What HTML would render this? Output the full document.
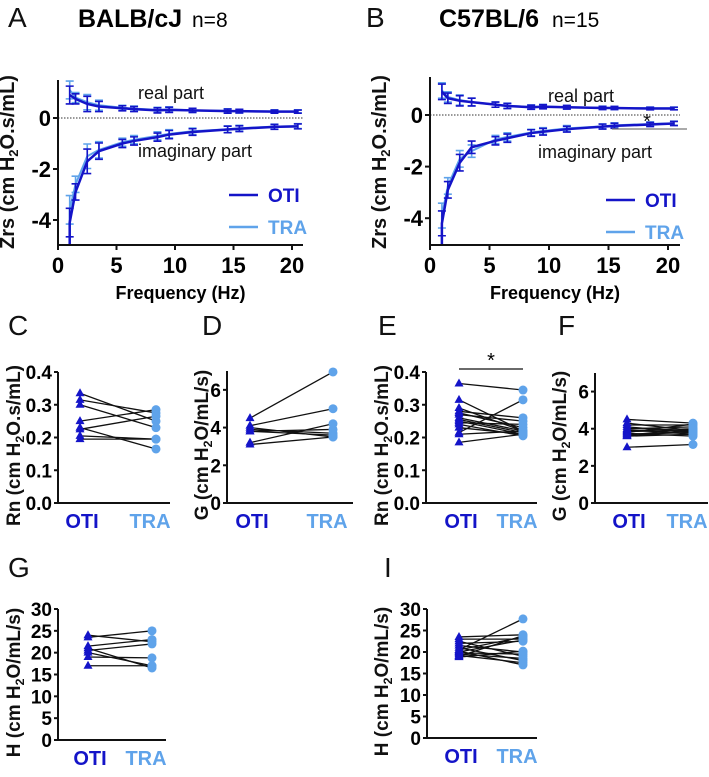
<!DOCTYPE html>
<html><head><meta charset="utf-8"><style>
body{margin:0;background:#fff}
svg{display:block;font-family:"Liberation Sans",sans-serif}
</style></head><body>
<svg id="fig" width="709" height="777" viewBox="0 0 709 777"></svg>
<script>
const OTI='#1414c8', TRA='#5fa3ea';
// ---- Panel A/B data ----
const freqs=[1,1.5,2.5,3.5,5.5,6.5,8.5,9.5,11.5,14.5,15.5,18.5,20.5];
const aRealOTI=[0.9,0.75,0.55,0.45,0.38,0.35,0.3,0.32,0.3,0.27,0.27,0.25,0.25];
const aRealTRA=[1.1,0.8,0.62,0.5,0.4,0.37,0.32,0.34,0.3,0.28,0.27,0.26,0.26];
const aImagOTI=[-4.1,-2.9,-1.7,-1.3,-1.0,-0.9,-0.75,-0.65,-0.55,-0.45,-0.42,-0.35,-0.33];
const aImagTRA=[-3.6,-2.6,-1.5,-1.25,-0.95,-0.85,-0.7,-0.62,-0.52,-0.44,-0.4,-0.34,-0.32];
const aErr=[0.35,0.2,0.3,0.2,0.1,0.1,0.1,0.1,0.08,0.08,0.07,0.06,0.06];
const bRealOTI=[0.9,0.65,0.55,0.5,0.4,0.35,0.3,0.32,0.3,0.27,0.27,0.25,0.25];
const bRealTRA=[0.95,0.7,0.58,0.5,0.4,0.36,0.31,0.33,0.3,0.28,0.27,0.26,0.26];
const bImagOTI=[-4.2,-2.9,-1.85,-1.25,-1.0,-0.9,-0.7,-0.65,-0.55,-0.45,-0.42,-0.37,-0.33];
const bImagTRA=[-3.9,-2.75,-1.7,-1.4,-0.95,-0.85,-0.68,-0.62,-0.52,-0.44,-0.4,-0.35,-0.32];
const bErr=[0.3,0.2,0.2,0.15,0.1,0.1,0.08,0.08,0.07,0.06,0.06,0.05,0.05];
const zTicksY=[0,-2,-4];
const zTicksX=[0,5,10,15,20];
// ---- paired panels ----
const cOTI=[0.335,0.315,0.30,0.25,0.225,0.23,0.205,0.195];
const cTRA=[0.25,0.275,0.23,0.285,0.265,0.165,0.195,0.195];
const dOTI=[4.5,4.1,4.0,3.9,3.8,3.8,3.2,3.1];
const dTRA=[6.95,5.0,3.5,3.7,3.6,3.9,4.2,3.5];
const eOTI=[0.365,0.315,0.29,0.28,0.275,0.27,0.26,0.255,0.25,0.245,0.24,0.23,0.215,0.21,0.185];
const eTRA=[0.345,0.22,0.22,0.26,0.23,0.25,0.22,0.215,0.21,0.24,0.205,0.21,0.315,0.22,0.21];
const fOTI=[4.5,4.3,4.2,4.1,4.0,3.95,3.9,3.85,3.8,3.75,3.7,3.65,3.6,3.6,3.0];
const fTRA=[4.3,3.9,4.2,3.8,4.1,3.7,4.0,3.9,4.25,3.6,3.8,4.0,3.7,3.9,3.15];
const gOTI=[24,23.5,21.5,21,20.5,20,19,17];
const gTRA=[22.5,25,23,16.5,22,17,18.8,17];
const iOTI=[23.5,23,22.5,22,21.5,21,20.5,20.2,20,19.8,19.5,19.2,19,18.8,20.5];
const iTRA=[24,23,19,22.5,20,18,23.5,17,22.8,19.5,18.5,17.5,23.8,20.2,27.7];

const svg=document.getElementById('fig');
const NS='http://www.w3.org/2000/svg';
function el(tag,attrs,parent){const e=document.createElementNS(NS,tag);for(const k in attrs)e.setAttribute(k,attrs[k]);(parent||svg).appendChild(e);return e;}
function txt(s,attrs,parent){const e=el('text',attrs,parent);e.textContent=s;return e;}

function label(x,y,s,size){const t=txt(s,{x:x,y:y,'font-size':size||26,fill:'#111'});

}

function ytitle(cx,cy,main,rest,size){
  const t=el('text',{transform:`translate(${cx},${cy}) rotate(-90)`,'text-anchor':'middle','font-size':size,'font-weight':'bold',fill:'#111'});
  
  
  t.innerHTML=main+'H<tspan font-size="'+(size*0.65)+'" dy="4">2</tspan><tspan dy="-4">'+rest+'</tspan>';
}

function zPanel(o){
  const g=el('g',{});
  
  
  const X=f=>o.x0+f*o.sx, Y=v=>o.y0-v*o.sy;
  el('line',{x1:o.x0,x2:o.xend,y1:Y(0),y2:Y(0),stroke:'#333','stroke-width':1,'stroke-dasharray':'1.5,1.5'},g);
  const series=[[o.rT,TRA],[o.iT,TRA],[o.rO,OTI],[o.iO,OTI]];
  series.forEach(([arr,c],si)=>{
    let d='';arr.forEach((v,i)=>{d+=(i?'L':'M')+X(freqs[i])+','+Y(v)});
    if(si%2==1) d='M'+X(freqs[0])+','+Y(-5)+'L'+d.slice(1);
    const p=el('path',{d:d,fill:'none',stroke:c,'stroke-width':si>1?2.5:2},g);
    
    
    arr.forEach((v,i)=>{const e=o.err[i]*(si%2?1.6:1),x=X(freqs[i]);
      el('path',{d:`M${x},${Y(v+e)}V${Y(v-e)}M${x-4},${Y(v+e)}h8M${x-4},${Y(v-e)}h8`,stroke:c,'stroke-width':1.6,fill:'none'},g);});
  });
  el('line',{x1:o.x0,x2:o.x0,y1:o.ytop,y2:o.ybot,stroke:'#111','stroke-width':2},g);
  el('line',{x1:o.x0,x2:o.xend,y1:o.ybot,y2:o.ybot,stroke:'#111','stroke-width':2},g);
  zTicksY.forEach(v=>{el('line',{x1:o.x0-5,x2:o.x0,y1:Y(v),y2:Y(v),stroke:'#111','stroke-width':2},g);
    txt(String(v),{x:o.x0-7,y:Y(v)+8,'text-anchor':'end','font-size':22,'font-weight':'bold'},g);});
  zTicksX.forEach(v=>{el('line',{x1:X(v),x2:X(v),y1:o.ybot,y2:o.ybot+5,stroke:'#111','stroke-width':2},g);
    txt(v,{x:X(v),y:o.ybot+28,'text-anchor':'middle','font-size':22,'font-weight':'bold'},g);});
  txt('Frequency (Hz)',{x:(o.x0+o.xend)/2,y:o.ybot+54,'text-anchor':'middle','font-size':18,'font-weight':'bold'},g);
  ytitle(o.x0-44,162,'Zrs (cm ','O.s/mL)',20);
  txt('real part',{x:o.realX,y:o.realY,'font-size':18,fill:'#111'},g);
  txt('imaginary part',{x:o.imX,y:o.imY,'font-size':18,fill:'#111'},g);
  el('line',{x1:o.legX,x2:o.legX+29,y1:o.legY,y2:o.legY,stroke:OTI,'stroke-width':2.5},g);
  txt('OTI',{x:o.legX+39,y:o.legY+7,'font-size':19,'font-weight':'bold',fill:OTI},g);
  el('line',{x1:o.legX,x2:o.legX+29,y1:o.legY+32,y2:o.legY+32,stroke:TRA,'stroke-width':2.5},g);
  txt('TRA',{x:o.legX+39,y:o.legY+39,'font-size':19,'font-weight':'bold',fill:TRA},g);
  return {g,X,Y};
}
zPanel({name:'panel-a-impedance',x0:58,xend:303,sx:11.7,y0:118,sy:25.5,ytop:80,ybot:245,rO:aRealOTI,rT:aRealTRA,iO:aImagOTI,iT:aImagTRA,err:aErr,realX:138,realY:99,imX:138,imY:157,legX:229,legY:195});
const pb=zPanel({name:'panel-b-impedance',x0:430,xend:680,sx:11.9,y0:115,sy:25.8,ytop:77,ybot:245,rO:bRealOTI,rT:bRealTRA,iO:bImagOTI,iT:bImagTRA,err:bErr,realX:548,realY:102,imX:538,imY:158,legX:606,legY:200});
txt('*',{x:647,y:128,'text-anchor':'middle','font-size':20,fill:'#111'},pb.g);
el('line',{x1:612,x2:687,y1:129,y2:129,stroke:'#777','stroke-width':1.2},pb.g);

label(8,27,'A',28);
let t=txt('BALB/cJ',{x:78,y:27,'font-size':25,'font-weight':'bold'});
txt('n=8',{x:192,y:27,'font-size':21});
label(366,27,'B',28);
t=txt('C57BL/6',{x:439,y:27,'font-size':25,'font-weight':'bold'});
txt('n=15',{x:552,y:27,'font-size':21});

function pPanel(o){
  const g=el('g',{});
  
  
  const Y=v=>o.y0-(v/o.max)*(o.y0-o.ytop);
  o.oti.forEach((v,i)=>{const l=el('line',{x1:o.xo,y1:Y(v),x2:o.xt,y2:Y(o.tra[i]),stroke:'#111','stroke-width':1.3},g);
    });
  o.oti.forEach(v=>{const p=el('path',{d:`M${o.xo},${Y(v)-5}l4.5,8h-9z`,fill:OTI},g);
    });
  o.tra.forEach(v=>{const c=el('circle',{cx:o.xt,cy:Y(v),r:4.5,fill:TRA},g);
    });
  el('line',{x1:o.x0,x2:o.x0,y1:o.ytop,y2:o.y0,stroke:'#111','stroke-width':2},g);
  el('line',{x1:o.x0,x2:o.xend,y1:o.y0,y2:o.y0,stroke:'#111','stroke-width':2},g);
  o.ticks.forEach((v,i)=>{el('line',{x1:o.x0-4,x2:o.x0,y1:Y(v),y2:Y(v),stroke:'#111','stroke-width':2},g);
    txt(o.tickLabels[i],{x:o.x0-6,y:Y(v)+7,'text-anchor':'end','font-size':19,'font-weight':'bold'},g);});
  txt('OTI',{x:o.xo+2,y:o.y0+25,'text-anchor':'middle','font-size':20,'font-weight':'bold',fill:OTI},g);
  txt('TRA',{x:o.xt-6,y:o.y0+25,'text-anchor':'middle','font-size':20,'font-weight':'bold',fill:TRA},g);
  ytitle(o.tx,(o.ytop+o.y0)/2+8,o.ttl[0],o.ttl[1],19);
  return {g,Y};
}
const rnTicks=[0,0.1,0.2,0.3,0.4], rnLabels=['0.0','0.1','0.2','0.3','0.4'];
const gTicks=[0,2,4,6], gLabels=['0','2','4','6'];
const hTicks=[0,5,10,15,20,25,30], hLabels=['0','5','10','15','20','25','30'];
label(8,335,'C',28); label(202,335,'D',28); label(378,335,'E',28); label(558,335,'F',28);
label(8,577,'G',28); label(384,577,'I',28);
pPanel({name:'panel-c-rn-balbc',x0:58,xend:170,xo:80,xt:156,y0:503,ytop:372,max:0.4,oti:cOTI,tra:cTRA,ticks:rnTicks,tickLabels:rnLabels,tx:20,ttl:['Rn (cm ','O.s/mL)']});
pPanel({name:'panel-d-g-balbc',x0:227,xend:353,xo:250,xt:333,y0:503,ytop:371,max:7,oti:dOTI,tra:dTRA,ticks:gTicks,tickLabels:gLabels,tx:208,ttl:['G (cm ','O/mL/s)']});
const pe=pPanel({name:'panel-e-rn-c57',x0:426,xend:537,xo:459,xt:523,y0:503,ytop:372,max:0.4,oti:eOTI,tra:eTRA,ticks:rnTicks,tickLabels:rnLabels,tx:388,ttl:['Rn (cm ','O.s/mL)']});
el('line',{x1:459,x2:523,y1:369,y2:369,stroke:'#111','stroke-width':1.3},pe.g);
txt('*',{x:491,y:367,'text-anchor':'middle','font-size':20},pe.g);
pPanel({name:'panel-f-g-c57',x0:595,xend:708,xo:627,xt:693,y0:503,ytop:373,max:7,oti:fOTI,tra:fTRA,ticks:gTicks,tickLabels:gLabels,tx:566,ttl:['G (cm ','O/mL/s)']});
pPanel({name:'panel-g-h-balbc',x0:58,xend:166,xo:88,xt:152,y0:740,ytop:609,max:30,oti:gOTI,tra:gTRA,ticks:hTicks,tickLabels:hLabels,tx:20,ttl:['H (cm ','O/mL/s)']});
pPanel({name:'panel-i-h-c57',x0:427,xend:537,xo:459,xt:523,y0:738,ytop:609,max:30,oti:iOTI,tra:iTRA,ticks:hTicks,tickLabels:hLabels,tx:388,ttl:['H (cm ','O/mL/s)']});
</script>
</body></html>
